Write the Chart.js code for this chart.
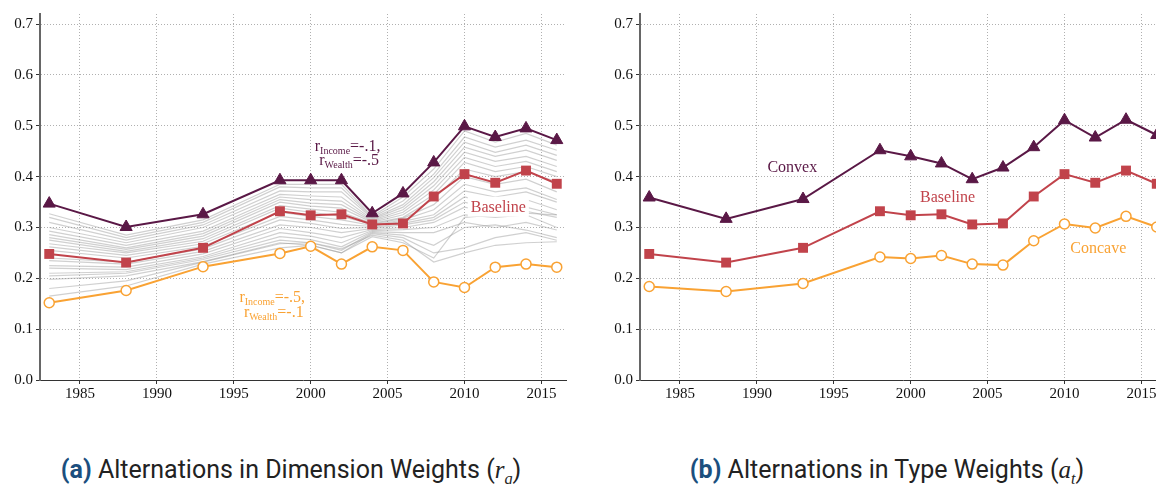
<!DOCTYPE html>
<html>
<head>
<meta charset="utf-8">
<script src="https://cdn.jsdelivr.net/npm/chart.js@4.4.1/dist/chart.umd.min.js"></script>
<style>
  html, body { margin: 0; padding: 0; background: #fff; }
  body { width: 1156px; height: 484px; overflow: hidden; position: relative; }
  .panel { position: absolute; top: 0; width: 600px; height: 400px; }
  .caption { position: absolute; top: 455px; font-family: Roboto, sans-serif; font-size: 25px; color: #222; white-space: nowrap; transform: translateX(-50%); }
  .caption b { color: #1b4f7e; }
  .caption .m { font-family: 'Liberation Serif', serif; font-style: italic; }
  .caption sub { font-size: 16px; }
</style>
</head>
<body>
<div class="panel" style="left:0"><canvas id="dimChart" width="600" height="400"></canvas></div>
<div class="panel" style="left:600px"><canvas id="typeChart" width="600" height="400"></canvas></div>
<div class="caption" style="left:291px"><b>(a)</b> Alternations in Dimension Weights (<span class="m">r<sub>q</sub></span>)</div>
<div class="caption" style="left:887px"><b>(b)</b> Alternations in Type Weights (<span class="m">a<sub>t</sub></span>)</div>
<script>
const years = [1983, 1988, 1993, 1998, 2000, 2002, 2004, 2006, 2008, 2010, 2012, 2014, 2016]
const xTicks = [1985, 1990, 1995, 2000, 2005, 2010, 2015]
const yTicks = [0, 0.1, 0.2, 0.3, 0.4, 0.5, 0.6, 0.7]

const baseline = [0.248, 0.231, 0.260, 0.332, 0.324, 0.326, 0.306, 0.308, 0.361, 0.405, 0.388, 0.412, 0.386]
// r_Income=-.1, r_Wealth=-.5
const wealthHeavy = [0.347, 0.301, 0.326, 0.393, 0.393, 0.393, 0.328, 0.367, 0.428, 0.499, 0.478, 0.495, 0.472]
// r_Income=-.5, r_Wealth=-.1
const incomeHeavy = [0.152, 0.176, 0.223, 0.249, 0.263, 0.228, 0.262, 0.255, 0.193, 0.182, 0.222, 0.228, 0.222]

// other weight combinations (grey)
const otherRuns = [
    [0.327, 0.285, 0.315, 0.385, 0.385, 0.385, 0.322, 0.360, 0.415, 0.490, 0.468, 0.485, 0.462],
    [0.320, 0.280, 0.310, 0.380, 0.378, 0.378, 0.320, 0.352, 0.405, 0.478, 0.458, 0.472, 0.452],
    [0.310, 0.275, 0.305, 0.372, 0.370, 0.370, 0.318, 0.345, 0.398, 0.468, 0.448, 0.462, 0.442],
    [0.300, 0.270, 0.300, 0.365, 0.362, 0.360, 0.316, 0.340, 0.390, 0.458, 0.440, 0.452, 0.432],
    [0.293, 0.265, 0.293, 0.360, 0.355, 0.352, 0.314, 0.335, 0.382, 0.448, 0.430, 0.440, 0.420],
    [0.286, 0.260, 0.288, 0.355, 0.348, 0.345, 0.312, 0.330, 0.374, 0.438, 0.420, 0.430, 0.410],
    [0.280, 0.257, 0.283, 0.350, 0.342, 0.338, 0.310, 0.325, 0.365, 0.428, 0.410, 0.420, 0.400],
    [0.275, 0.253, 0.278, 0.343, 0.336, 0.330, 0.308, 0.320, 0.356, 0.415, 0.400, 0.410, 0.390],
    [0.268, 0.250, 0.273, 0.338, 0.330, 0.322, 0.306, 0.318, 0.345, 0.400, 0.385, 0.395, 0.370],
    [0.262, 0.245, 0.268, 0.330, 0.322, 0.315, 0.304, 0.315, 0.335, 0.385, 0.370, 0.378, 0.355],
    [0.255, 0.240, 0.263, 0.322, 0.315, 0.306, 0.302, 0.312, 0.325, 0.372, 0.360, 0.370, 0.350],
    [0.240, 0.232, 0.258, 0.315, 0.308, 0.298, 0.300, 0.308, 0.320, 0.360, 0.345, 0.355, 0.335],
    [0.235, 0.228, 0.253, 0.305, 0.300, 0.290, 0.298, 0.305, 0.315, 0.350, 0.335, 0.340, 0.325],
    [0.225, 0.222, 0.248, 0.298, 0.290, 0.280, 0.296, 0.300, 0.310, 0.340, 0.328, 0.332, 0.320],
    [0.220, 0.217, 0.243, 0.290, 0.283, 0.270, 0.294, 0.296, 0.300, 0.325, 0.320, 0.325, 0.300],
    [0.210, 0.213, 0.240, 0.282, 0.276, 0.262, 0.292, 0.290, 0.290, 0.310, 0.300, 0.310, 0.295],
    [0.205, 0.210, 0.237, 0.275, 0.270, 0.255, 0.290, 0.285, 0.265, 0.300, 0.305, 0.295, 0.280],
    [0.198, 0.205, 0.233, 0.270, 0.265, 0.250, 0.288, 0.280, 0.250, 0.260, 0.280, 0.290, 0.275],
    [0.180, 0.195, 0.232, 0.268, 0.270, 0.258, 0.285, 0.275, 0.232, 0.250, 0.265, 0.270, 0.272],
    [0.165, 0.185, 0.228, 0.260, 0.265, 0.250, 0.282, 0.270, 0.240, 0.320, 0.325, 0.328, 0.325]
]

const convex = [0.359, 0.317, 0.356, 0.452, 0.440, 0.426, 0.395, 0.418, 0.458, 0.511, 0.477, 0.512, 0.482]
const concave = [0.184, 0.174, 0.190, 0.242, 0.239, 0.245, 0.228, 0.226, 0.274, 0.307, 0.299, 0.322, 0.301]

const PURPLE = '#5a1846'
const RED = '#c1434b'
const ORANGE = '#f9a233'
const SERIF = '"Liberation Serif", "DejaVu Serif", serif'

Chart.defaults.font.family = SERIF
Chart.defaults.font.size = 15

const pts = vals => vals.map((v, i) => ({ x: years[i], y: v }))

const purpleSet = vals => ({
    data: pts(vals), borderColor: PURPLE, backgroundColor: PURPLE, borderWidth: 2,
    pointStyle: 'triangle', pointRadius: 7, pointBorderWidth: 1, order: 1
})
const redSet = vals => ({
    data: pts(vals), borderColor: RED, backgroundColor: RED, borderWidth: 2,
    pointStyle: 'rect', pointRadius: 7, pointBorderWidth: 0, order: 2
})
const orangeSet = vals => ({
    data: pts(vals), borderColor: ORANGE, backgroundColor: '#fff', borderWidth: 2,
    pointStyle: 'circle', pointRadius: 5, pointBorderWidth: 1.5, order: 3
})

// free text labels, drawn on top of the lines
const notes = {
    id: 'notes',
    afterDatasetsDraw(chart, args, opts) {
        const ctx = chart.ctx
        const xs = chart.scales.x, ys = chart.scales.y
        ctx.save()
        ctx.textBaseline = 'alphabetic'
        ctx.textAlign = 'left'
        opts.items.forEach(n => {
            const px = xs.getPixelForValue(n.x), py = ys.getPixelForValue(n.y)
            let total = 0
            const widths = n.parts.map(([t, sub]) => {
                ctx.font = (sub ? 10 : 16) + 'px ' + SERIF
                const w = ctx.measureText(t).width
                total += w
                return w
            })
            let x = px - total / 2
            if (n.box) {
                ctx.fillStyle = '#fff'
                ctx.fillRect(x - 3, py - 10, total + 6, 20)
            }
            ctx.fillStyle = n.color
            n.parts.forEach(([t, sub], i) => {
                ctx.font = (sub ? 10 : 16) + 'px ' + SERIF
                ctx.fillText(t, x, py + 5 + (sub ? 3 : 0))
                x += widths[i]
            })
        })
        ctx.restore()
    }
}

const makeChart = (id, datasets, items) => new Chart(document.getElementById(id), {
    type: 'line',
    data: { datasets },
    options: {
        responsive: false,
        animation: false,
        layout: { padding: { top: 14, right: 34, left: 0, bottom: 0 } },
        plugins: { legend: { display: false }, tooltip: { enabled: false }, notes: { items } },
        scales: {
            x: {
                type: 'linear', min: 1982.4, max: 2016.6,
                afterBuildTicks: s => { s.ticks = xTicks.map(v => ({ value: v })) },
                afterFit: s => { s.height = 20 },
                ticks: { font: { family: SERIF, size: 15 }, color: '#111', padding: 1, maxRotation: 0, callback: v => String(v) },
                grid: { color: '#b0b0b0', lineWidth: 1, tickColor: '#333', tickLength: 4, tickWidth: 1, tickBorderDash: [] },
                border: { color: '#333', width: 1, dash: [1, 2] }
            },
            y: {
                min: 0, max: 0.72,
                afterBuildTicks: s => { s.ticks = yTicks.map(v => ({ value: v })) },
                afterFit: s => { s.width = 40 },
                ticks: { font: { family: SERIF, size: 15 }, color: '#111', padding: 3, callback: v => v.toFixed(1) },
                grid: { color: '#b0b0b0', lineWidth: 1, tickColor: '#333', tickLength: 4, tickWidth: 1, tickBorderDash: [] },
                border: { color: '#666', width: 2, dash: [1, 2] }
            }
        }
    },
    plugins: [notes]
})

const greySets = otherRuns.map(run => ({
    data: pts(run), borderColor: 'rgba(150,150,150,0.45)', borderWidth: 1.2, pointRadius: 0, order: 10
}))

makeChart('dimChart', [purpleSet(wealthHeavy), redSet(baseline), orangeSet(incomeHeavy), ...greySets], [
    { x: 2002.4, y: 0.461, color: PURPLE, parts: [['r', false], ['Income', true], ['=-.1,', false]] },
    { x: 2002.5, y: 0.433, color: PURPLE, parts: [['r', false], ['Wealth', true], ['=-.5', false]] },
    { x: 1997.5, y: 0.163, color: ORANGE, parts: [['r', false], ['Income', true], ['=-.5,', false]] },
    { x: 1997.6, y: 0.134, color: ORANGE, parts: [['r', false], ['Wealth', true], ['=-.1', false]] },
    { x: 2012.2, y: 0.341, color: RED, box: true, parts: [['Baseline', false]] }
])

makeChart('typeChart', [purpleSet(convex), redSet(baseline), orangeSet(concave)], [
    { x: 1992.3, y: 0.419, color: PURPLE, parts: [['Convex', false]] },
    { x: 2002.4, y: 0.360, color: RED, parts: [['Baseline', false]] },
    { x: 2012.2, y: 0.260, color: ORANGE, parts: [['Concave', false]] }
])
</script>
</body>
</html>
